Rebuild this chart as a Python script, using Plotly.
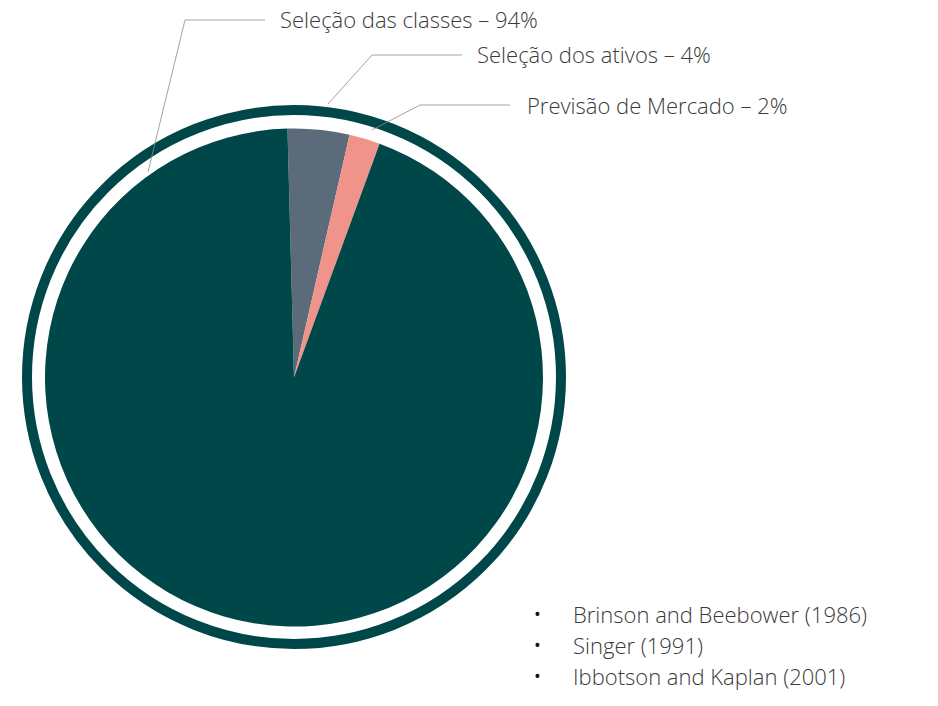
import plotly.graph_objects as go

labels = ["Seleção dos ativos", "Previsão de Mercado", "Seleção das classes"]
values = [4, 2, 94]
colors = ["#5C6B7A", "#F0938A", "#00474A"]
label_texts = ["Seleção das classes – 94%", "Seleção dos ativos – 4%", "Previsão de Mercado – 2%"]
bullets = ["Brinson and Beebower (1986)", "Singer (1991)", "Ibbotson and Kaplan (2001)"]

W, H = 938, 706
OFF = 8
px = lambda x: (x - OFF) / W
py = lambda y: 1 - (y - OFF) / H
FONT = "Open Sans"

fig = go.Figure(go.Pie(
    labels=labels, values=values, sort=False, direction="clockwise", rotation=-1.5,
    marker=dict(colors=colors, line=dict(width=0)), textinfo="none", hoverinfo="label+percent",
    domain=dict(x=[px(45), px(543)], y=[py(627), py(128)]), showlegend=False))

shapes = [dict(type="circle", xref="paper", yref="paper", x0=px(27), x1=px(561), y0=py(644), y1=py(110),
               line=dict(color="#00474A", width=10))]
leaders = [[(148, 172), (185, 20), (265, 20)],
           [(328, 104), (372, 55), (462, 55)],
           [(372, 130), (420, 105), (510, 105)]]
for pts in leaders:
    for (a, b) in zip(pts[:-1], pts[1:]):
        shapes.append(dict(type="line", xref="paper", yref="paper", x0=px(a[0]), y0=py(a[1]),
                           x1=px(b[0]), y1=py(b[1]), line=dict(color="#8A8A8A", width=0.8)))
ann = []
for t, (x, y) in zip(label_texts, [(278, 19), (475, 54), (525, 105)]):
    ann.append(dict(text=t, x=px(x), y=py(y), xref="paper", yref="paper", xanchor="left", yanchor="middle",
                    showarrow=False, font=dict(size=22, color="#3A3A3A", family=FONT, weight=300)))
for i, t in enumerate(bullets):
    y = 614 + i * 31
    ann.append(dict(text="•", x=px(532), y=py(y), xref="paper", yref="paper", xanchor="left", yanchor="middle",
                    showarrow=False, font=dict(size=18, color="#111", family=FONT)))
    ann.append(dict(text=t, x=px(571), y=py(y), xref="paper", yref="paper", xanchor="left", yanchor="middle",
                    showarrow=False, font=dict(size=22, color="#3A3A3A", family=FONT, weight=300)))

fig.update_layout(width=W, height=H, margin=dict(l=0, r=0, t=0, b=0), paper_bgcolor="white",
                  shapes=shapes, annotations=ann)
fig.write_html("out.html")
